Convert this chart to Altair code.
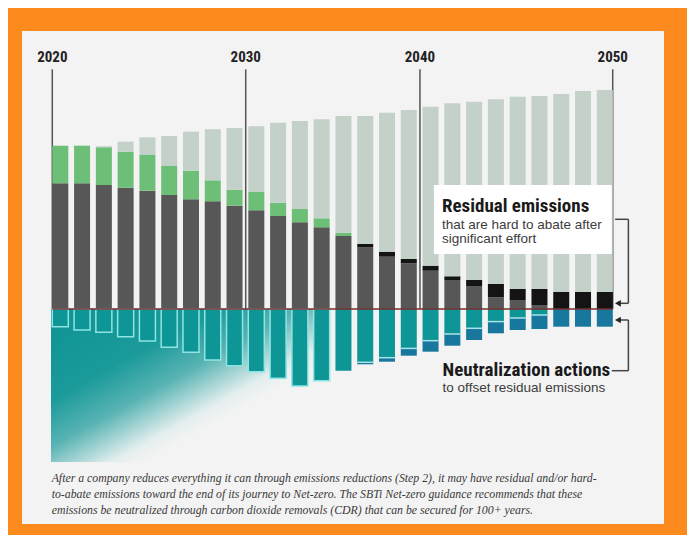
import altair as alt
import pandas as pd

# ---------------- data (arbitrary units) ----------------
n_bars = 26
total = [163.3, 163.3, 162.7, 167.3, 171.7, 173, 177.3, 179.7, 181, 182.7, 186.3, 188, 189.7,
         193, 193, 196.3, 199, 202.3, 205.7, 207.3, 209.7, 212.3, 213, 215, 218, 219]
emissions = [125.7, 125.7, 124, 121.3, 118.3, 114, 109.7, 107.7, 103.3, 98.7, 93, 86.7, 81.7,
             73, 61.7, 52.3, 45.7, 38.3, 29, 23, 11.7, 9, 4, 0, 0, 0]
residual = [0, 0, 0, 0, 0, 0, 0, 0, 0, 0, 0, 0, 0,
            0, 3.3, 5, 4.3, 5, 3.7, 6, 13.3, 11, 16, 17, 17, 17]
reduced = [37.6, 37.6, 37.7, 36, 35.7, 29, 28.6, 21, 16, 18.3, 13.3, 13.3, 9,
           3.3, 0, 0, 0, 0, 0, 0, 0, 0, 0, 0, 0, 0]
neutral_depth = [17.7, 21, 23.3, 27.7, 32, 38.3, 43.3, 51, 56.7, 62.7, 69.3, 77, 71.7,
                 61.7, 55.3, 52.7, 46.7, 42.7, 36.7, 31, 24.3, 21, 20, 17.7, 17.7, 17.7]
removal = [0, 0, 0, 0, 0, 0, 0, 0, 0, 0, 0, 0, 0,
           0, 2, 4, 7.3, 11, 11.7, 11.7, 11.7, 12, 14, 17.7, 17.7, 17.7]

year_labels = ["2020", "2030", "2040", "2050"]
year_marks = [0.0, 8.88, 16.88, 25.73]

heading_top = "Residual emissions"
sub_top = ["that are hard to abate after", "significant effort"]
heading_bottom = "Neutralization actions"
sub_bottom = ["to offset residual emissions"]
caption = [
    "After a company reduces everything it can through emissions reductions (Step 2), it may have residual and/or hard-",
    "to-abate emissions toward the end of its journey to Net-zero. The SBTi Net-zero guidance recommends that these",
    "emissions be neutralized through carbon dioxide removals (CDR) that can be secured for 100+ years.",
]

# ---------------- build tables ----------------
BW = 0.735
rows = []
for i in range(n_bars):
    d, b, g = emissions[i], residual[i], reduced[i]
    segs = [("Emissions", 0, d), ("Residual", d, d + b), ("Reduced", d + b, d + b + g),
            ("Projected", d + b + g, total[i])]
    for name, y0, y1 in segs:
        if y1 - y0 > 0.05:
            rows.append(dict(i=i, i2=i + BW, seg=name, y=y0, y2=y1))
    t = neutral_depth[i] - removal[i]
    if t > 0.05:
        rows.append(dict(i=i, i2=i + BW, seg="Neutralization", y=0, y2=-t))
    if removal[i] > 0.05:
        rows.append(dict(i=i, i2=i + BW, seg="Removal", y=-t, y2=-neutral_depth[i]))
bars = pd.DataFrame(rows)

outline = pd.DataFrame([dict(i=i, i2=i + BW, y=0, y2=-neutral_depth[i]) for i in range(13)])
dividers = pd.DataFrame([dict(i=i, i2=i + BW, y=-(neutral_depth[i] - removal[i]))
                         for i in range(n_bars) if 0.05 < removal[i] < neutral_depth[i] - 0.05])
years = pd.DataFrame(dict(label=year_labels, pos=year_marks, top=239.7, zero=0.0, ty=247.0))

xs = alt.Scale(domain=[-1.391, 28.085], nice=False, zero=False)
ys = alt.Scale(domain=[-215, 278], nice=False, zero=False)


def X(f):
    return alt.X(f, type="quantitative", scale=xs, axis=None)


def Y(f):
    return alt.Y(f, type="quantitative", scale=ys, axis=None)


COND = "Roboto Condensed, Liberation Sans Narrow, DejaVu Sans Condensed, Arial Narrow, sans-serif"

grad = alt.Chart(pd.DataFrame(dict(a=[-0.06], b=[12.6], c=[0.0], d=[-153.0])))\
    .mark_rect(fill=alt.LinearGradient(
        gradient="linear", x1=0, y1=0, x2=1, y2=1,
        stops=[alt.GradientStop(color="#0d9393", offset=0),
               alt.GradientStop(color="#1b9a9a", offset=0.3),
               alt.GradientStop(color="#58b3b3", offset=0.45),
               alt.GradientStop(color="#9ed1d1", offset=0.53),
               alt.GradientStop(color="#e4eeee", offset=0.61),
               alt.GradientStop(color="#f3f3f3", offset=0.67),
               alt.GradientStop(color="#f3f3f3", offset=1)]))\
    .encode(x=X("a"), x2="b", y=Y("c"), y2="d")

year_lines = alt.Chart(years).mark_rule(color="#555555", strokeWidth=1.5)\
    .encode(x=X("pos"), y=Y("top"), y2="zero")
year_text = alt.Chart(years).mark_text(font=COND, fontWeight="bold", fontSize=15,
                                       color="#222222", baseline="alphabetic", align="center")\
    .encode(x=X("pos"), y=Y("ty"), text="label")

bar_layer = alt.Chart(bars).mark_bar().encode(
    x=X("i"), x2="i2", y=Y("y"), y2="y2",
    color=alt.Color("seg:N", legend=None, scale=alt.Scale(
        domain=["Projected", "Reduced", "Emissions", "Residual", "Neutralization", "Removal"],
        range=["#c3d1c8", "#6dbe76", "#575757", "#141414", "#0e9595", "#18779d"])))

outline_layer = alt.Chart(outline).mark_bar(fillOpacity=0, stroke="#8fe4e4", strokeWidth=1.5)\
    .encode(x=X("i"), x2="i2", y=Y("y"), y2="y2")

divider_layer = alt.Chart(dividers).mark_rule(color="#a8e2ea", strokeWidth=1.5)\
    .encode(x=X("i"), x2="i2", y=Y("y"))

baseline = alt.Chart(pd.DataFrame(dict(a=[0.0], b=[25.735], c=[0.0])))\
    .mark_rule(color="#7a2e2e", strokeWidth=1.5).encode(x=X("a"), x2="b", y=Y("c"))

box = alt.Chart(pd.DataFrame(dict(a=[17.52], b=[25.69], c=[124.0], d=[55.0])))\
    .mark_rect(fill="white").encode(x=X("a"), x2="b", y=Y("c"), y2="d")

head_df = pd.DataFrame(dict(t=[heading_top, heading_bottom], x=[17.89, 17.92], y=[97.0, -66.5]))
heads = alt.Chart(head_df).mark_text(font=COND, fontWeight="bold", fontSize=19, color="#1a1a1a",
                                     align="left", baseline="alphabetic")\
    .encode(x=X("x"), y=Y("y"), text="t")

sub_df = pd.DataFrame(dict(t=sub_top + sub_bottom, x=[17.89, 17.89, 17.92], y=[80.5, 65.7, -83.0]))
subs = alt.Chart(sub_df).mark_text(font="Liberation Sans, Arial, sans-serif", fontSize=13.5,
                                   color="#3c3c3c", align="left", baseline="alphabetic")\
    .encode(x=X("x"), y=Y("y"), text="t")

seg_df = pd.DataFrame(dict(
    a=[25.84, 26.45, 26.45, 26.45, 26.45, 26.45],
    b=[26.45, 26.45, 25.95, 25.95, 26.45, 25.69],
    c=[89.7, 89.7, 5.7, -11.0, -11.0, -61.7],
    d=[89.7, 5.7, 5.7, -11.0, -61.7, -61.7]))
brackets = alt.Chart(seg_df).mark_rule(color="#444444", strokeWidth=1.5)\
    .encode(x=X("a"), x2="b", y=Y("c"), y2="d")
arrows = alt.Chart(pd.DataFrame(dict(a=[25.97, 25.97], c=[5.7, -11.0])))\
    .mark_point(shape="triangle-left", filled=True, size=45, color="#222222", opacity=1)\
    .encode(x=X("a"), y=Y("c"))

cap_df = pd.DataFrame(dict(t=caption, x=[-0.03] * 3, y=[-169.0, -185.0, -201.0]))
cap = alt.Chart(cap_df).mark_text(font="Liberation Serif, Times New Roman, serif", fontStyle="italic",
                                  fontSize=11.8, color="#3a3a3a", align="left", baseline="middle")\
    .encode(x=X("x"), y=Y("y"), text="t")

chart = alt.layer(grad, year_lines, bar_layer, outline_layer, divider_layer, baseline, box,
                  heads, subs, brackets, arrows, year_text, cap)\
    .properties(width=642, height=493, autosize="none",
                padding={"left": 14, "top": 23, "right": 23, "bottom": 11},
                background="#fd8a1d")\
    .configure_view(fill="#f3f3f3", stroke=None)

chart.save("out.html", embed_options={"renderer": "svg", "actions": False})
